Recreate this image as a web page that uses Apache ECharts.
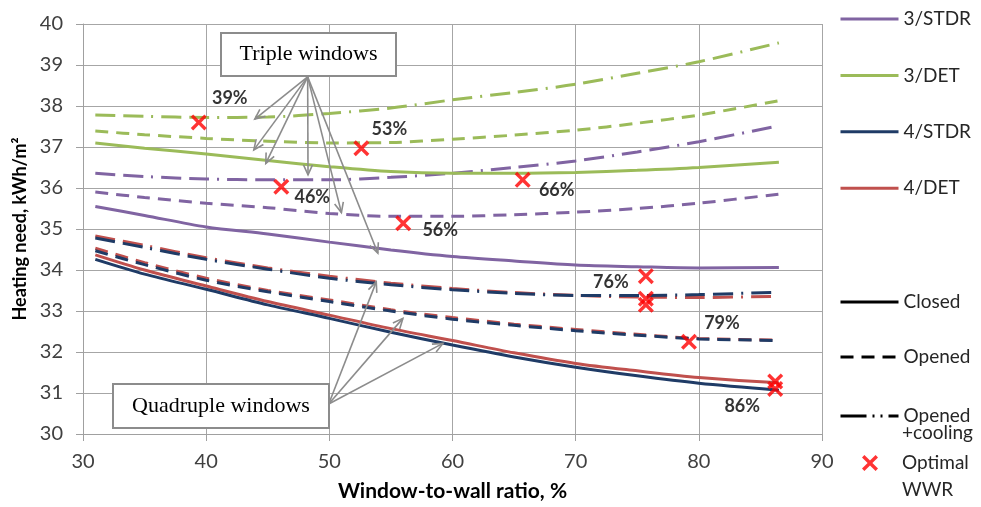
<!DOCTYPE html>
<html>
<head>
<meta charset="utf-8">
<script src="https://cdn.jsdelivr.net/npm/echarts@6/dist/echarts.min.js"></script>
<style>
  html, body { margin: 0; padding: 0; background: #fff; }
  #chart { width: 981px; height: 507px; }
</style>
</head>
<body>
<div id="chart"></div>
<script>
// Window-to-wall ratio (%) at which each case was evaluated
const wwr = [31, 35, 40, 45, 50, 55, 60, 65, 70, 75, 80, 86.5];

// Triple windows, heating need (kWh/m2)
const stdr3Closed  = [35.55, 35.33, 35.05, 34.88, 34.68, 34.49, 34.33, 34.22, 34.12, 34.08, 34.05, 34.06];
const stdr3Opened  = [35.90, 35.77, 35.63, 35.52, 35.38, 35.31, 35.31, 35.35, 35.41, 35.50, 35.63, 35.85];
const stdr3Cooling = [36.36, 36.28, 36.22, 36.20, 36.20, 36.26, 36.36, 36.50, 36.66, 36.88, 37.13, 37.52];
const det3Closed   = [37.10, 36.97, 36.83, 36.67, 36.52, 36.40, 36.36, 36.36, 36.38, 36.43, 36.50, 36.63];
const det3Opened   = [37.39, 37.30, 37.21, 37.14, 37.10, 37.11, 37.19, 37.29, 37.41, 37.58, 37.78, 38.13];
const det3Cooling  = [37.78, 37.75, 37.72, 37.73, 37.82, 37.95, 38.15, 38.33, 38.53, 38.80, 39.08, 39.54];

// Quadruple windows, heating need (kWh/m2)
const stdr4Closed  = [34.26, 33.90, 33.53, 33.15, 32.82, 32.48, 32.17, 31.88, 31.63, 31.42, 31.24, 31.07];
const stdr4Opened  = [34.47, 34.13, 33.75, 33.47, 33.23, 33.00, 32.80, 32.65, 32.52, 32.41, 32.32, 32.28];
const stdr4Cooling = [34.78, 34.55, 34.26, 34.02, 33.80, 33.64, 33.52, 33.43, 33.38, 33.38, 33.40, 33.46];
const det4Closed   = [34.37, 34.00, 33.61, 33.23, 32.90, 32.57, 32.28, 31.98, 31.72, 31.54, 31.38, 31.25];
const det4Opened   = [34.53, 34.18, 33.80, 33.50, 33.27, 33.03, 32.84, 32.68, 32.55, 32.43, 32.33, 32.29];
const det4Cooling  = [34.83, 34.60, 34.30, 34.05, 33.85, 33.68, 33.55, 33.45, 33.38, 33.34, 33.33, 33.36];

// Optimal WWR points (x = WWR %, y = heating need)
const optWwr  = [39.4, 46.1, 52.6, 56.0, 65.7, 75.7, 75.7, 75.7, 79.2, 86.2, 86.2];
const optHeat = [37.60, 36.03, 36.97, 35.14, 36.20, 33.85, 33.30, 33.15, 32.25, 31.28, 31.10];

// Axis ticks
const xTicks = { min: 30, max: 90, step: 10 };
const yTicks = { min: 30, max: 40, step: 1 };

// Legend entries
const caseNames  = ['3/STDR', '3/DET', '4/STDR', '4/DET'];
const stateNames = ['Closed', 'Opened', 'Opened +cooling'];
const optName    = 'Optimal WWR';

// ---- styling -------------------------------------------------------------
const colors = { '3/STDR': '#8064A2', '3/DET': '#9BBB59', '4/STDR': '#1F3B66', '4/DET': '#C0504D' };
const dashOpened  = [13, 8];
const dashCooling = [20, 8, 20, 8, 2, 8];
const dashCoolingKey = [26, 6, 2, 6, 2, 6];
const sansFont = 'Lato';
const serifFont = 'Liberation Serif';
const noSymbol = { color: 'rgba(0,0,0,0)', borderWidth: 0 };
const keyLine = { width: 3 };

// label placement next to each optimum (index -> offset of label centre)
const optLabelOffset = {
  0: [31, -24], 1: [31, 10], 2: [28, -19], 3: [37, 7], 4: [34, 10],
  5: [-35, 6], 8: [33, -19], 10: [-33, 17]
};

const crossPath = 'path://M0,3 L3,0 L10,7 L17,0 L20,3 L13,10 L20,17 L17,20 L10,13 L3,20 L0,17 L7,10 Z';

function pairs(ys) { return wwr.map((x, i) => [x, ys[i]]); }

function lineSeries(name, ys, color, dash) {
  return {
    name: name,
    type: 'line',
    smooth: 0.3,
    symbol: 'none',
    data: pairs(ys),
    lineStyle: { color: color, width: 3, type: dash || 'solid' },
    itemStyle: { color: color },
    z: 3
  };
}

const series = [
  lineSeries('3/STDR', stdr3Closed, colors['3/STDR']),
  lineSeries('3/STDR opened', stdr3Opened, colors['3/STDR'], dashOpened),
  lineSeries('3/STDR opened+cooling', stdr3Cooling, colors['3/STDR'], dashCooling),
  lineSeries('3/DET', det3Closed, colors['3/DET']),
  lineSeries('3/DET opened', det3Opened, colors['3/DET'], dashOpened),
  lineSeries('3/DET opened+cooling', det3Cooling, colors['3/DET'], dashCooling),
  lineSeries('4/DET', det4Closed, colors['4/DET']),
  lineSeries('4/DET opened', det4Opened, colors['4/DET'], dashOpened),
  lineSeries('4/DET opened+cooling', det4Cooling, colors['4/DET'], dashCooling),
  lineSeries('4/STDR', stdr4Closed, colors['4/STDR']),
  lineSeries('4/STDR opened', stdr4Opened, colors['4/STDR'], dashOpened),
  lineSeries('4/STDR opened+cooling', stdr4Cooling, colors['4/STDR'], dashCooling),
  // black samples used only by the line-style legend
  { name: 'Closed', type: 'line', symbol: 'none', data: [], lineStyle: { color: '#000', width: 3 }, itemStyle: { color: '#000' } },
  { name: 'Opened', type: 'line', symbol: 'none', data: [], lineStyle: { color: '#000', width: 3, type: dashOpened }, itemStyle: { color: '#000' } },
  { name: 'Opened +cooling', type: 'line', symbol: 'none', data: [], lineStyle: { color: '#000', width: 3, type: dashCoolingKey }, itemStyle: { color: '#000' } },
  {
    name: optName,
    type: 'scatter',
    symbol: crossPath,
    symbolSize: 16,
    itemStyle: { color: '#FF0000' },
    z: 5,
    data: optWwr.map((x, i) => {
      const item = { value: [x, optHeat[i]] };
      const off = optLabelOffset[i];
      item.label = off ? {
        show: true,
        position: 'inside',
        offset: off,
        formatter: () => Math.round(x) + '%',
        color: '#000',
        fontFamily: sansFont,
        fontWeight: 'bold',
        fontSize: 18
      } : { show: false };
      return item;
    })
  }
];

const legendText = { fontFamily: sansFont, fontSize: 19, color: '#262626', lineHeight: 20 };

const chart = echarts.init(document.getElementById('chart'), null, { renderer: 'canvas' });

const option = {
  animation: false,
  backgroundColor: '#ffffff',
  grid: { left: 83, right: 159, top: 24, bottom: 73, containLabel: false },
  xAxis: {
    type: 'value',
    min: xTicks.min, max: xTicks.max, interval: xTicks.step,
    name: 'Window-to-wall ratio, %',
    nameLocation: 'middle',
    nameGap: 47,
    nameTextStyle: { fontFamily: sansFont, fontSize: 21, fontWeight: 'bold', color: '#000' },
    axisLine: { show: true, lineStyle: { color: '#A0A0A0', width: 1 } },
    axisTick: { show: true, length: 7, lineStyle: { color: '#A0A0A0' } },
    axisLabel: { fontFamily: sansFont, fontSize: 20, color: '#404040', margin: 18 },
    splitLine: { show: true, lineStyle: { color: '#A6A6A6', width: 1 } }
  },
  yAxis: {
    type: 'value',
    min: yTicks.min, max: yTicks.max, interval: yTicks.step,
    name: 'Heating need, kWh/m\u00B2',
    nameLocation: 'middle',
    nameGap: 54,
    nameTextStyle: { fontFamily: sansFont, fontSize: 18, fontWeight: 'bold', color: '#000' },
    axisLine: { show: true, lineStyle: { color: '#A0A0A0', width: 1 } },
    axisTick: { show: true, length: 7, lineStyle: { color: '#A0A0A0' } },
    axisLabel: { fontFamily: sansFont, fontSize: 20, color: '#404040', margin: 20 },
    splitLine: { show: true, lineStyle: { color: '#A6A6A6', width: 1 } }
  },
  legend: [
    {
      data: caseNames, orient: 'vertical', left: 839, top: 9, padding: 0,
      itemWidth: 58, itemHeight: 20, itemGap: 36.4, selectedMode: false,
      itemStyle: noSymbol, lineStyle: keyLine,
      textStyle: legendText
    },
    {
      data: stateNames.slice(0, 2), orient: 'vertical', left: 839, top: 292, padding: 0,
      itemWidth: 58, itemHeight: 20, itemGap: 35, selectedMode: false,
      itemStyle: noSymbol, lineStyle: keyLine,
      textStyle: legendText
    },
    {
      data: [stateNames[2]], orient: 'vertical', left: 839, top: 406, padding: 0,
      itemWidth: 58, itemHeight: 20, selectedMode: false,
      itemStyle: noSymbol, lineStyle: keyLine,
      formatter: n => n.split(' ')[0],
      textStyle: legendText
    },
    {
      data: [optName], orient: 'vertical', left: 862, top: 453, padding: 0,
      itemWidth: 16, itemHeight: 20, selectedMode: false,
      formatter: n => n.split(' ')[0],
      textStyle: Object.assign({}, legendText, { padding: [0, 0, 0, 19] })
    }
  ],
  series: series
};

chart.setOption(option);

// ---- annotation call-outs -------------------------------------------------
// arrow origin and arrow tips in data coordinates
const tripleOrigin = [48.24, 38.71];
const tripleTips = [[43.95, 37.68], [43.87, 36.93], [44.84, 36.60], [48.27, 36.32], [50.98, 35.40], [53.94, 34.41]];
const quadOrigin = [49.95, 30.73];
const quadTips = [[53.81, 33.71], [55.97, 32.82], [59.22, 32.21]];

function arrow(from, to) {
  const p0 = chart.convertToPixel({ gridIndex: 0 }, from);
  const p1 = chart.convertToPixel({ gridIndex: 0 }, to);
  const ang = Math.atan2(p1[1] - p0[1], p1[0] - p0[0]);
  const L = 11, spread = 0.42;
  const a1 = [p1[0] - L * Math.cos(ang - spread), p1[1] - L * Math.sin(ang - spread)];
  const a2 = [p1[0] - L * Math.cos(ang + spread), p1[1] - L * Math.sin(ang + spread)];
  const style = { stroke: '#8C8C8C', lineWidth: 1.6, fill: null };
  return [
    { type: 'line', shape: { x1: p0[0], y1: p0[1], x2: p1[0], y2: p1[1] }, style: style, z: 10 },
    { type: 'polyline', shape: { points: [a1, p1, a2] }, style: style, z: 10 }
  ];
}

function callout(left, top, w, h, text) {
  return {
    type: 'group', left: left, top: top, z: 11,
    children: [
      { type: 'rect', shape: { x: 0, y: 0, width: w, height: h },
        style: { fill: '#fff', stroke: '#8C8C8C', lineWidth: 2 } },
      { type: 'text', x: w / 2, y: h / 2,
        style: { text: text, fill: '#000', font: '22px "' + serifFont + '"', align: 'center', verticalAlign: 'middle' } }
    ]
  };
}

const graphics = [];
tripleTips.forEach(t => graphics.push(...arrow(tripleOrigin, t)));
quadTips.forEach(t => graphics.push(...arrow(quadOrigin, t)));
graphics.push(callout(220, 32, 175, 43, 'Triple windows'));
graphics.push(callout(112, 383, 216, 44, 'Quadruple windows'));
// second lines of the two-line legend entries
graphics.push({ type: 'text', left: 902, top: 423, style: { text: '+cooling', fill: '#262626', font: '19px ' + sansFont } });
graphics.push({ type: 'text', left: 902, top: 480, style: { text: 'WWR', fill: '#262626', font: '19px ' + sansFont } });

chart.setOption({ graphic: graphics });
</script>
</body>
</html>
